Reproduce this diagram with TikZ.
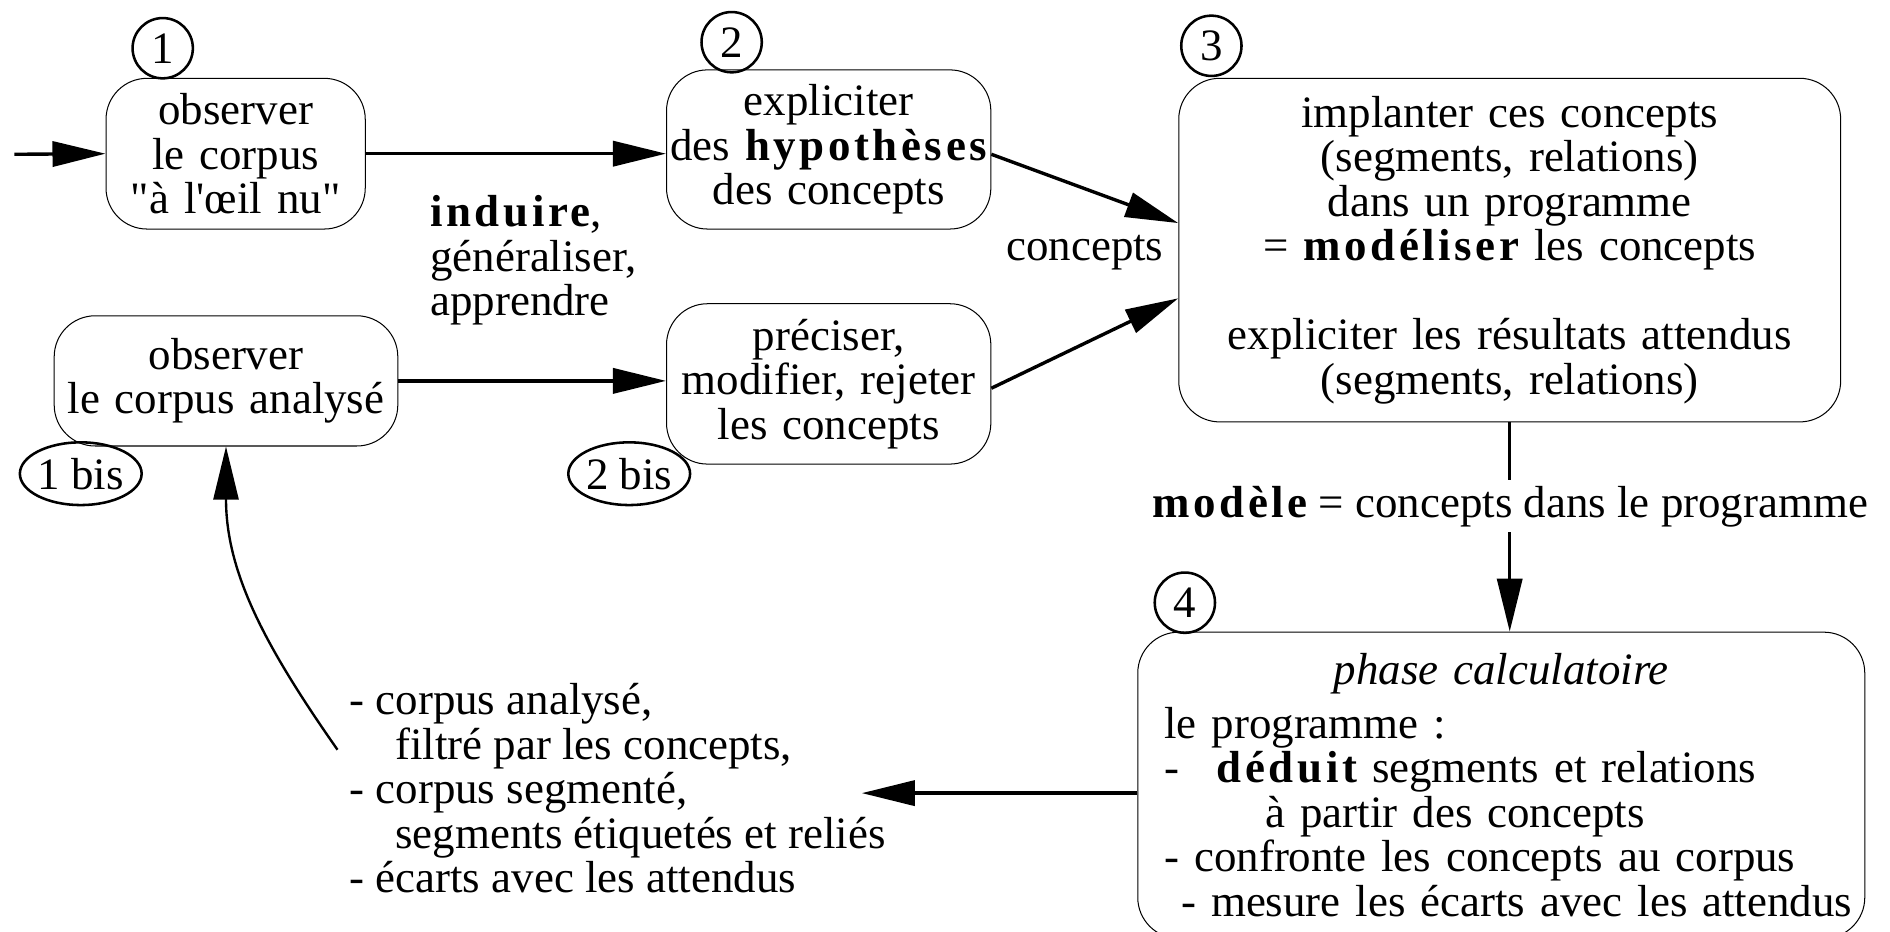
\documentclass[tikz,border=0pt]{standalone}
\usepackage{fontspec}
\setmainfont{Liberation Serif}[Ligatures=TeXOff]
\usepackage{tikz}
\usetikzlibrary{arrows.meta,shapes.geometric}
\newcommand{\gras}[1]{{\bfseries\addfontfeature{LetterSpace=8}#1}}
\hyphenpenalty=10000

\begin{document}
\begin{tikzpicture}[x=0.025cm,y=-0.025cm,
    font=\fontsize{26.5}{26.3}\selectfont,
    etape/.style={draw, rounded corners=0.85cm, align=center, inner sep=0pt, line width=0.6pt},
    num/.style={draw, circle, line width=1.5pt, inner sep=0pt, minimum size=1.25cm},
    numbis/.style={draw, ellipse, line width=1.5pt, inner sep=0pt, minimum width=2.5cm, minimum height=1.3cm},
    fleche/.style={-{Triangle[length=1.1cm,width=0.52cm]}, line width=2pt}]
    \useasboundingbox (0,0) rectangle (1568,773);
    % les etapes
    \node[etape, text width=5.375cm, minimum height=3.125cm] (obs) at (195.5,127.5) {observer\\le corpus\\"à l'œil nu"};
    \node[etape, text width=6.725cm, minimum height=3.3cm] (hyp) at (687.5,124) {expliciter\\des~\gras{hypothèses}\\des concepts};
    \node[etape, text width=7.125cm, minimum height=2.7cm] (obsbis) at (187.5,316) {observer\\le corpus analysé};
    \node[etape, text width=6.725cm, minimum height=3.325cm] (prec) at (687.5,318.5) {préciser,\\modifier, rejeter\\les concepts};
    \node[etape, text width=13.725cm, minimum height=7.125cm] (impl) at (1252.5,207.5) {implanter ces concepts\\(segments, relations)\\dans un programme\\= \gras{modéliser} les concepts\\[26.3pt]expliciter les résultats attendus\\(segments, relations)};
    \node[etape, align=left, inner xsep=0.55cm, text width=13.975cm, minimum height=6.35cm] (calc) at (1245.5,651.5) {\hfill\textit{phase calculatoire}\hfill\null\\[5pt]le programme :\\-\hspace*{0.78cm}\gras{déduit} segments et relations\\\hspace*{2.1cm}à partir des concepts\\- confronte les concepts au corpus\\\mbox{\hspace*{0.35cm}- mesure les écarts avec les attendus}\\[4pt]};
    % numeros
    \node[num] (n1) at (135,40) {1};
    \node[num] (n2) at (607,35) {2};
    \node[num] (n3) at (1005,38) {3};
    \node[num] (n4) at (983,500) {4};
    \node[numbis] (n1b) at (67,393) {1 bis};
    \node[numbis] (n2b) at (522,393) {2 bis};
    % textes libres
    \node[align=left, anchor=west] (induire) at (352,216) {\gras{induire},\\généraliser,\\apprendre};
    \node (concepts) at (900,210) {concepts};
    \node[inner sep=3pt] (modele) at (1253,420) {\gras{modèle} = concepts dans le programme};
    \node[align=left, anchor=west] (resultats) at (285,654) {- corpus analysé,\\\hspace*{0.95cm}filtré par les concepts,\\- corpus segmenté,\\\hspace*{0.95cm}segments étiquetés et reliés\\- écarts avec les attendus};
    \coordinate (entree) at (12,128);
    \coordinate (restip) at (715,658);
    \coordinate (retour) at (280,622);
    % fleches
    \draw[fleche] (entree) -- (obs.west);
    \draw[fleche] (obs.east) -- (obs.east -| hyp.west);
    \draw[fleche] (obsbis.east) -- (obsbis.east -| prec.west);
    \draw[fleche] ([yshift=-0.1cm]hyp.east) -- ([yshift=0.56cm]impl.west);
    \draw[fleche] ([yshift=-0.09cm]prec.east) -- ([yshift=-1cm]impl.west);
    \draw[line width=2pt] (impl.south) -- (impl.south |- modele.north);
    \draw[fleche] (impl.south |- modele.south) -- (impl.south |- calc.north);
    \draw[fleche] (calc.west |- restip) -- (restip);
    \draw[fleche, line width=1.4pt] (retour) to[out=125,in=-90] (obsbis.south);
\end{tikzpicture}
\end{document}
